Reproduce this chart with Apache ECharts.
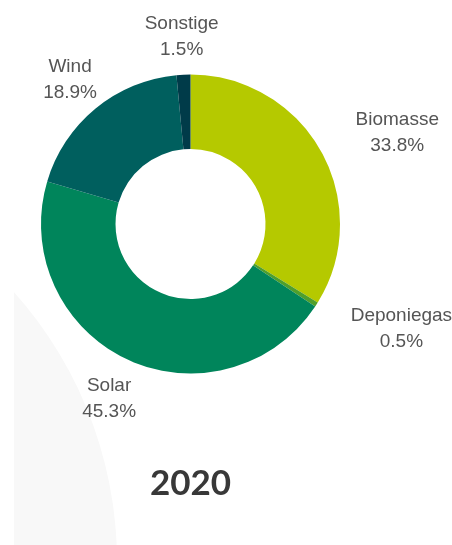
<!DOCTYPE html>
<html>
<head>
<meta charset="utf-8">
<script src="https://cdn.jsdelivr.net/npm/echarts@6/dist/echarts.min.js"></script>
<style>
html,body{margin:0;padding:0;background:#fff;}
#chart{width:452px;height:545px;}
</style>
</head>
<body>
<div id="chart"></div>
<script>
var categories = ['Biomasse', 'Deponiegas', 'Solar', 'Wind', 'Sonstige'];
var values = [33.8, 0.5, 45.3, 18.9, 1.5];
var colors = ['#b5c900', '#4f9f2c', '#00855b', '#005f5e', '#003b49'];
var titleText = '2020';
// per-slice label distance (outside the ring) and horizontal shift
var labelLen = [38, 45, 43, 37, 38];
var labelLen2 = [43, 47, 0, 2, 0];

var chart = echarts.init(document.getElementById('chart'), null, {renderer: 'canvas'});
var data = categories.map(function (c, i) {
  return {
    name: c,
    value: values[i],
    itemStyle: {color: colors[i]},
    labelLine: {length: labelLen[i], length2: labelLen2[i]}
  };
});
chart.setOption({
  animation: false,
  graphic: [
    {type: 'circle', shape: {cx: -288, cy: 562, r: 405}, style: {fill: '#f8f8f8'}, z: -20, silent: true},
    {type: 'rect', shape: {x: 0, y: 0, width: 14, height: 545}, style: {fill: '#ffffff'}, z: -19, silent: true},
    {type: 'text', x: 190.5, y: 484, silent: true, z: 10,
      style: {text: titleText, align: 'center', verticalAlign: 'middle',
        font: 'bold 35px Lato', fill: '#383838'}}
  ],
  series: [{
    type: 'pie',
    center: [190.5, 224],
    radius: [75, 149.5],
    startAngle: 90,
    clockwise: true,
    avoidLabelOverlap: false,
    data: data,
    label: {
      show: true,
      position: 'outside',
      distanceToLabelLine: 0,
      formatter: function (p) { return '{a|' + p.name + '}\n{a|' + p.value.toFixed(1) + '%}'; },
      rich: {a: {fontFamily: 'Liberation Sans', fontSize: 19, color: '#555555', lineHeight: 26, align: 'center'}}
    },
    labelLine: {show: true, lineStyle: {opacity: 0, width: 0}},
    labelLayout: function (params) {
      var pts = params.labelLinePoints;
      if (!pts) return {};
      var end = pts[pts.length - 1];
      return {x: end[0], y: end[1], align: 'center', verticalAlign: 'middle'};
    },
    emphasis: {disabled: true}
  }]
});
</script>
</body>
</html>
